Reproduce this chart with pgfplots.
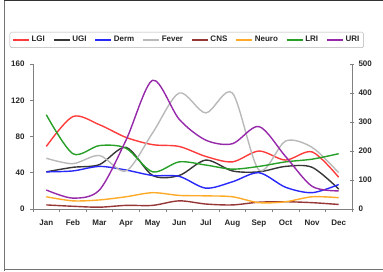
\documentclass[border=0pt]{standalone}
\usepackage{pgfplots}
\pgfplotsset{compat=1.18}
\usepackage{fontspec}
\setmainfont{Liberation Sans}
\definecolor{cLGI}{RGB}{255,60,60}
\definecolor{cUGI}{RGB}{55,55,55}
\definecolor{cDerm}{RGB}{40,40,250}
\definecolor{cFever}{RGB}{185,185,185}
\definecolor{cCNS}{RGB}{150,55,55}
\definecolor{cNeuro}{RGB}{255,170,40}
\definecolor{cLRI}{RGB}{40,160,40}
\definecolor{cURI}{RGB}{150,40,170}
\begin{document}
\begin{tikzpicture}[x=1pt,y=1pt]
\useasboundingbox (0,0) rectangle (383,271);
\draw[black!55, line width=1pt] (4,0.5) -- (4,270.5);
\draw[black!80, line width=1pt] (4,270.5) -- (383,270.5);
\draw[black!55, line width=1pt] (4,1.2) -- (383,1.2);
\begin{axis}[
  at={(33pt,62pt)}, anchor=south west, scale only axis,
  width=319pt, height=145pt,
  xmin=0.5, xmax=12.5, ymin=0, ymax=160,
  ytick={0,40,...,160},
  xtick={1,...,12},
  xticklabels={Jan,Feb,Mar,Apr,May,Jun,Jul,Aug,Sep,Oct,Nov,Dec},
  minor xtick={0.5,1.5,...,12.5},
  x tick style={draw=none},
  minor x tick style={draw=gray, line width=0.6pt},
  y tick style={draw=gray, line width=0.6pt},
  major tick length=3pt, minor tick length=3pt,
  tick align=outside,
  axis x line*=bottom, axis y line*=left,
  axis line style={gray, line width=0.8pt, -},
  ticklabel style={font=\fontsize{8}{9.5}\selectfont\bfseries, text=black!85},
  yticklabel style={xshift=-2pt},
  xticklabel style={yshift=-4pt},
  /pgf/number format/assume math mode=true,
  legend columns=-1,
  legend style={at={(0.482,1.166)}, anchor=center, draw=gray!60, rounded corners=1.5pt,
    font=\fontsize{8}{9.5}\selectfont\bfseries, text=black!85,
    /tikz/every even column/.append style={column sep=6pt}, inner sep=2.2pt},
  legend image code/.code={\draw[#1, line width=1.4pt] (0pt,0pt) -- (16pt,0pt);},
  every axis plot/.append style={line width=1.4pt, smooth, tension=0.5},
]
\addplot[cLGI] coordinates {(1,69)(2,102)(3,93)(4,79)(5,71)(6,69)(7,58)(8,52)(9,64)(10,54)(11,63)(12,35)};
\addlegendentry{LGI}
\addplot[cUGI] coordinates {(1,41)(2,46)(3,49)(4,68)(5,37)(6,37)(7,54)(8,42)(9,41)(10,47)(11,46)(12,22)};
\addlegendentry{UGI}
\addplot[cDerm] coordinates {(1,41)(2,42)(3,47)(4,43)(5,37)(6,36)(7,23)(8,30)(9,40)(10,24)(11,18)(12,27)};
\addlegendentry{Derm}
\addplot[cFever] coordinates {(1,56)(2,50)(3,59)(4,42)(5,84)(6,128)(7,106)(8,128)(9,43)(10,75)(11,68)(12,40)};
\addlegendentry{Fever}
\addplot[cCNS] coordinates {(1,4.5)(2,3)(3,2)(4,4)(5,4)(6,9)(7,5.5)(8,4.5)(9,7.5)(10,8)(11,7)(12,5)};
\addlegendentry{CNS}
\addplot[cNeuro] coordinates {(1,13.5)(2,9)(3,10)(4,13.5)(5,18)(6,15)(7,14.5)(8,13.5)(9,7)(10,8)(11,13.5)(12,12.5)};
\addlegendentry{Neuro}
\addplot[cLRI] coordinates {(1,104)(2,61)(3,70)(4,67)(5,41)(6,52)(7,48.5)(8,44)(9,47)(10,52)(11,55)(12,61)};
\addlegendentry{LRI}
\addplot[cURI] coordinates {(1,21)(2,12)(3,21)(4,76)(5,142)(6,99)(7,76)(8,72)(9,91)(10,58)(11,25)(12,20)};
\addlegendentry{URI}
\end{axis}
\begin{axis}[
  at={(33pt,62pt)}, anchor=south west, scale only axis,
  width=319pt, height=145pt,
  xmin=0.5, xmax=12.5, ymin=0, ymax=500,
  ytick={0,100,...,500},
  axis x line=none, axis y line*=right,
  axis line style={gray, line width=0.8pt, -},
  y tick style={draw=gray, line width=0.6pt},
  major tick length=4pt, tick align=center,
  ticklabel style={font=\fontsize{8}{9.5}\selectfont\bfseries, text=black!85},
  yticklabel style={xshift=1pt},
  /pgf/number format/assume math mode=true,
]
\addplot[draw=none] coordinates {(1,0)};
\end{axis}
\end{tikzpicture}
\end{document}
